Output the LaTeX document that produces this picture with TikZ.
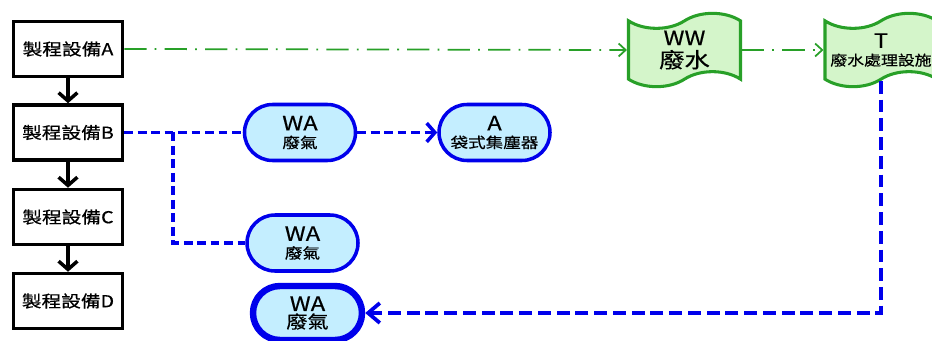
\documentclass[tikz,border=0pt]{standalone}
\usepackage{fontspec}
\setmainfont[FakeStretch=1.2, FakeBold=0.5]{Noto Sans CJK TC}
\usetikzlibrary{arrows.meta,shapes.misc,shapes.symbols}

\definecolor{gasblue}{RGB}{0,0,235}
\definecolor{gasfill}{RGB}{196,238,255}
\definecolor{watergreen}{RGB}{40,160,40}
\definecolor{waterfill}{RGB}{212,245,202}

\newcommand{\codetext}{\fontsize{17}{19}\selectfont}
\newcommand{\nametext}{\fontsize{12.5}{15}\selectfont}

\begin{document}
\begin{tikzpicture}[x=0.03cm, y=-0.03cm,
    unit/.style={draw, rectangle, line width=3pt, fill=white, minimum width=3.27cm, minimum height=1.65cm, inner sep=0pt, font=\fontsize{14}{16}\selectfont},
    gas/.style={draw=gasblue, fill=gasfill, rounded rectangle, line width=3pt, minimum width=3.33cm, minimum height=1.68cm, inner sep=0pt, align=center},
    water/.style={draw=watergreen, fill=waterfill, tape, line width=2.6pt, minimum width=3.36cm, minimum height=2.2cm, tape bend height=0.45cm, inner sep=0pt, align=center},
    flow/.style={line width=3pt, -{Straight Barb[length=7pt,width=16pt]}},
    wwline/.style={watergreen, line width=1.5pt, dash pattern=on 19pt off 7pt on 1.5pt off 7pt},
    waline/.style={gasblue, line width=3pt, dash pattern=on 7.5pt off 4pt},
    tline/.style={gasblue, line width=3.2pt, dash pattern=on 11pt off 5pt}]
    \useasboundingbox (0,0) rectangle (932,341);

    % process units
    \node[unit] (unitA) at (68,49) {製程設備A};
    \node[unit] (unitB) at (68,132.5) {製程設備B};
    \node[unit] (unitC) at (68,217) {製程設備C};
    \node[unit] (unitD) at (68,301) {製程設備D};

    % waste gas and control device
    \node[gas] (wa1) at (300,132.5) {\codetext WA\\[3pt]\nametext 廢氣};
    \node[gas] (bag) at (494.5,132.5) {\codetext A\\[3pt]\nametext 袋式集塵器};
    \node[gas] (wa2) at (302.5,243) {\codetext WA\\[3pt]\nametext 廢氣};
    \node[gas, line width=5.5pt, minimum width=3.27cm, minimum height=1.62cm] (wa3) at (307.5,313) {\codetext WA\\[1pt]\fontsize{15}{17}\selectfont 廢氣};

    % waste water and treatment
    \node[water] (ww) at (684.5,50) {\codetext WW\\[3pt]\fontsize{18}{20}\selectfont 廢水};
    \node[water] (treat) at (881,50) {\codetext T\\[3pt]\fontsize{12}{14}\selectfont 廢水處理設施};

    \coordinate (split) at (173,132.5);

    \draw[flow] (unitA) -- (unitB);
    \draw[flow] (unitB) -- (unitC);
    \draw[flow] (unitC) -- (unitD);

    \draw[wwline, -{Straight Barb[length=6pt,width=11pt]}] (unitA.east) -- (ww.west);
    \draw[wwline, -{Straight Barb[length=6pt,width=11pt]}] (ww.east) -- (treat.west);

    \draw[waline] (unitB.east) -- (wa1.west);
    \draw[waline] (split) |- (wa2.west);
    \draw[waline, -{Straight Barb[length=7pt,width=16pt]}] (wa1.east) -- (bag.west);
    \draw[tline, -{Straight Barb[length=10pt,width=17pt]}] (treat.south) |- (wa3.east);
\end{tikzpicture}
\end{document}
